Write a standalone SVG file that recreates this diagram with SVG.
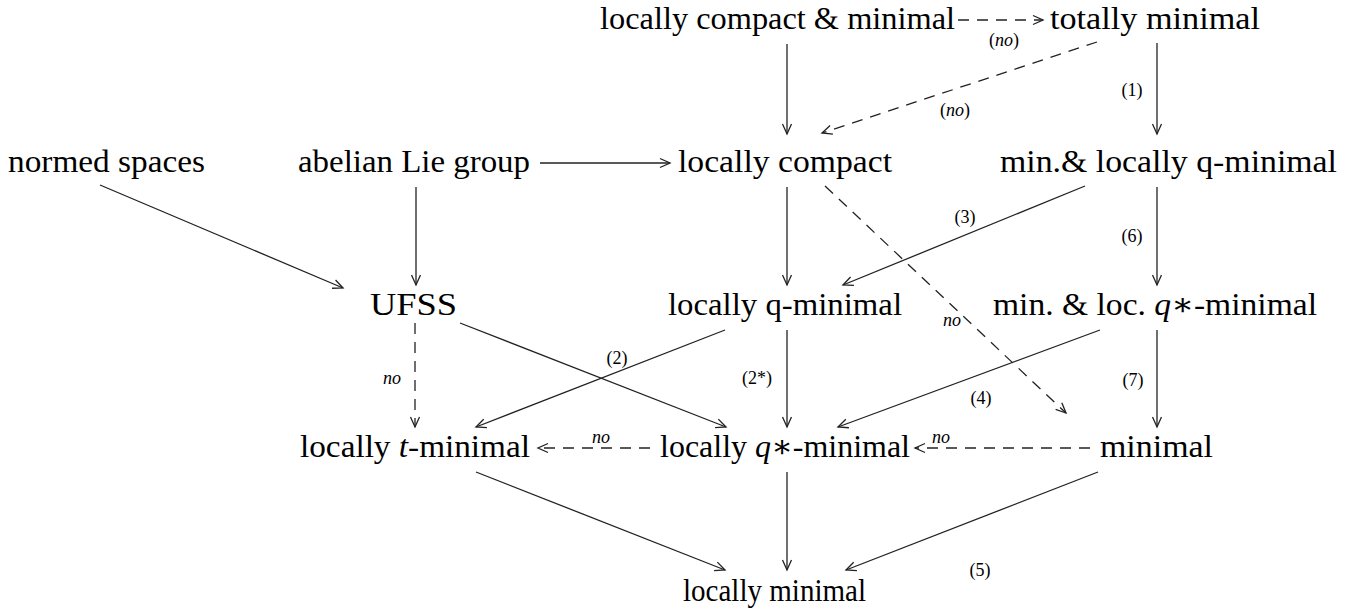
<svg xmlns="http://www.w3.org/2000/svg" width="1345" height="612" viewBox="0 0 1345 612">
<style>
  .n { font-family: "Liberation Serif", "DejaVu Serif", serif; font-size: 31px; fill: #000; text-anchor: middle; }
  .l { font-family: "Liberation Serif", "DejaVu Serif", serif; font-size: 18px; fill: #000; text-anchor: middle; }
  .i { font-style: italic; }
  .c { fill: none; stroke: #222; stroke-width: 1.3; }
  .d { stroke-dasharray: 11 8; }
</style>
<defs>
  <marker id="ah" markerUnits="userSpaceOnUse" markerWidth="14" markerHeight="12" viewBox="-12 -6 14 12" refX="0" refY="0" orient="auto">
    <path d="M-10,-4.5 L0,0 L-10,4.5" fill="none" stroke="#222" stroke-width="1.3" stroke-dasharray="none"/>
  </marker>
</defs>
<rect width="1345" height="612" fill="#fff"/>

<g id="connectors">
  <line class="c d" x1="958" y1="20" x2="1043" y2="20" marker-end="url(#ah)"/>
  <line class="c" x1="787" y1="44" x2="787" y2="134" marker-end="url(#ah)"/>
  <line class="c d" x1="1097" y1="42" x2="822" y2="133" marker-end="url(#ah)"/>
  <line class="c" x1="1157" y1="43" x2="1157" y2="134" marker-end="url(#ah)"/>
  <line class="c" x1="540" y1="163" x2="670" y2="163" marker-end="url(#ah)"/>
  <line class="c" x1="100" y1="185" x2="343" y2="288" marker-end="url(#ah)"/>
  <line class="c" x1="416" y1="187" x2="416" y2="285" marker-end="url(#ah)"/>
  <line class="c" x1="787" y1="187" x2="787" y2="285" marker-end="url(#ah)"/>
  <line class="c d" x1="825" y1="186" x2="1066" y2="413" marker-end="url(#ah)"/>
  <line class="c" x1="1085" y1="186" x2="843" y2="285" marker-end="url(#ah)"/>
  <line class="c" x1="1157" y1="187" x2="1157" y2="285" marker-end="url(#ah)"/>
  <line class="c d" x1="415" y1="323" x2="415" y2="427" marker-end="url(#ah)"/>
  <line class="c" x1="460" y1="323" x2="726" y2="427" marker-end="url(#ah)"/>
  <line class="c" x1="725" y1="330" x2="476" y2="427" marker-end="url(#ah)"/>
  <line class="c" x1="787" y1="330" x2="787" y2="427" marker-end="url(#ah)"/>
  <line class="c" x1="1100" y1="330" x2="838" y2="427" marker-end="url(#ah)"/>
  <line class="c" x1="1157" y1="330" x2="1157" y2="427" marker-end="url(#ah)"/>
  <line class="c d" x1="650" y1="448" x2="538" y2="448" marker-end="url(#ah)"/>
  <line class="c d" x1="1090" y1="448" x2="915" y2="448" marker-end="url(#ah)"/>
  <line class="c" x1="476" y1="472" x2="725" y2="570" marker-end="url(#ah)"/>
  <line class="c" x1="787" y1="472" x2="787" y2="570" marker-end="url(#ah)"/>
  <line class="c" x1="1098" y1="472" x2="846" y2="570" marker-end="url(#ah)"/>

  <text class="l" x="1004" y="46">(<tspan class="i">no</tspan>)</text>
  <text class="l" x="955" y="116">(<tspan class="i">no</tspan>)</text>
  <text class="l" x="1132" y="96">(1)</text>
  <text class="l" x="965" y="223">(3)</text>
  <text class="l" x="1132" y="242">(6)</text>
  <text class="l i" x="952" y="326">no</text>
  <text class="l i" x="392" y="384">no</text>
  <text class="l" x="617" y="364">(2)</text>
  <text class="l" x="757" y="384">(2*)</text>
  <text class="l" x="981" y="404">(4)</text>
  <text class="l" x="1133" y="386">(7)</text>
  <text class="l i" x="601" y="443">no</text>
  <text class="l i" x="941" y="443">no</text>
  <text class="l" x="980" y="576">(5)</text>
</g>

<g id="n-lcm"><text class="n" x="777.5" y="29" textLength="355" lengthAdjust="spacingAndGlyphs">locally compact &amp; minimal</text></g>
<g id="n-tm"><text class="n" x="1155" y="29" textLength="210" lengthAdjust="spacingAndGlyphs">totally minimal</text></g>
<g id="n-ns"><text class="n" x="106.5" y="172" textLength="197" lengthAdjust="spacingAndGlyphs">normed spaces</text></g>
<g id="n-alg"><text class="n" x="414" y="172" textLength="232" lengthAdjust="spacingAndGlyphs">abelian Lie group</text></g>
<g id="n-lc"><text class="n" x="785" y="172" textLength="214" lengthAdjust="spacingAndGlyphs">locally compact</text></g>
<g id="n-mlqm"><text class="n" x="1168.5" y="172" textLength="337" lengthAdjust="spacingAndGlyphs">min.&amp; locally q-minimal</text></g>
<g id="n-ufss"><text class="n" x="413.5" y="315" textLength="87" lengthAdjust="spacingAndGlyphs">UFSS</text></g>
<g id="n-lqm"><text class="n" x="785" y="315" textLength="234" lengthAdjust="spacingAndGlyphs">locally q-minimal</text></g>
<g id="n-mlq*m"><text class="n" x="1155" y="315" textLength="324" lengthAdjust="spacingAndGlyphs">min. &amp; loc. <tspan class="i">q</tspan>∗-minimal</text></g>
<g id="n-ltm"><text class="n" x="415" y="457" textLength="230" lengthAdjust="spacingAndGlyphs">locally <tspan class="i">t</tspan>-minimal</text></g>
<g id="n-lq*m"><text class="n" x="785" y="457" textLength="250" lengthAdjust="spacingAndGlyphs">locally <tspan class="i">q</tspan>∗-minimal</text></g>
<g id="n-m"><text class="n" x="1156.5" y="457" textLength="113" lengthAdjust="spacingAndGlyphs">minimal</text></g>
<g id="n-lm"><text class="n" x="774.5" y="601" textLength="183" lengthAdjust="spacingAndGlyphs">locally minimal</text></g>
</svg>
